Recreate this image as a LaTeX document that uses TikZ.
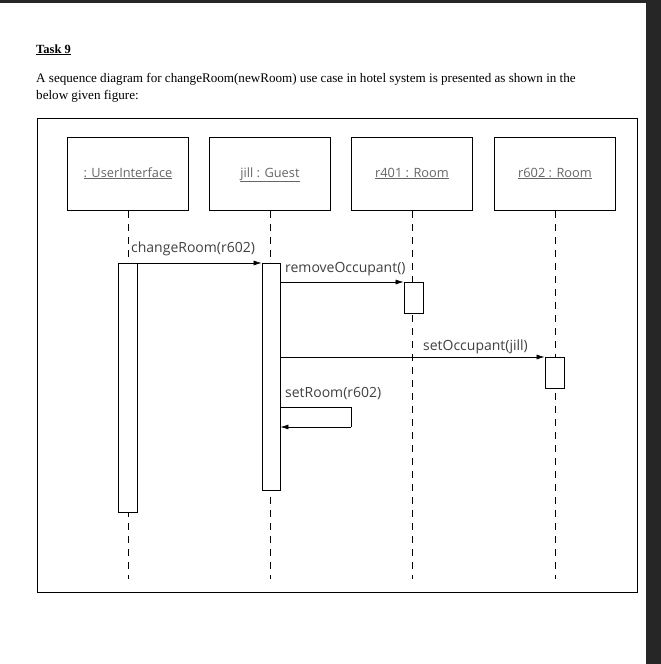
\documentclass[tikz,border=0pt]{standalone}
\usepackage{fontspec}
\setmainfont{Liberation Serif}
\newfontfamily\diag{Open Sans}
\begin{document}
\begin{tikzpicture}[x=1pt,y=-1pt,
  obj/.style={draw,line width=0.8pt,minimum width=121pt,minimum height=73pt,inner sep=0pt,text height=9pt,text depth=3pt,font=\diag\fontsize{12.8}{14}\selectfont,text=black!60},
  act/.style={draw,line width=0.8pt,fill=white},
  life/.style={line width=0.6pt,dash pattern=on 7pt off 6pt},
  msg/.style={line width=0.7pt,-{Latex[length=8pt,width=5pt]}},
  lbl/.style={font=\diag\fontsize{14}{16}\selectfont,text=black!75,inner sep=0pt,anchor=south west}]
\usetikzlibrary{arrows.meta}
\useasboundingbox (0,0) rectangle (661,664);
\fill[black!85] (0,0) rectangle (661,2.5);
\fill[black!85] (646,0) rectangle (661,664);
\node[anchor=base west,inner sep=0pt,font=\bfseries\fontsize{12.5}{14}\selectfont] (t) at (36,53) {\underline{Task 9}};
\node[anchor=base west,inner sep=0pt,font=\fontsize{13.1}{14}\selectfont] (h1) at (36,82) {A sequence diagram for changeRoom(newRoom) use case in hotel system is presented as shown in the};
\node[anchor=base west,inner sep=0pt,font=\fontsize{13.1}{14}\selectfont] (h2) at (36,99) {below given figure:};
\node[draw,line width=0.8pt,minimum width=600pt,minimum height=474pt,anchor=north west] (frame) at (37,118) {};
\node[obj] (ui) at (128,174) {\underline{: UserInterface}};
\node[obj] (g) at (270,174) {\underline{jill : Guest}};
\node[obj] (r4) at (412,174) {\underline{r401 : Room}};
\node[obj] (r6) at (555,174) {\underline{r602 : Room}};
\foreach \n in {ui,g,r4,r6} \draw[life] (\n.south) -- ++(0,368);
\node[act,minimum width=19pt,minimum height=249pt,inner sep=0pt,anchor=north] (aui) at (128,263) {};
\node[act,minimum width=18pt,minimum height=227pt,inner sep=0pt,anchor=north] (ag) at (271,263) {};
\node[act,minimum width=19pt,minimum height=31pt,inner sep=0pt,anchor=north] (ar4) at (413.5,282) {};
\node[act,minimum width=19pt,minimum height=31pt,inner sep=0pt,anchor=north] (ar6) at (554.5,357) {};
\draw[msg] (aui.north east) -- (ag.north west);
\node[lbl] (l1) at (131,256) {changeRoom(r602)};
\draw[msg] (ag.east |- ar4.north) -- (ar4.north west);
\node[lbl] (l2) at (285,276) {removeOccupant()};
\draw[msg] (ag.east |- ar6.north) -- (ar6.north west);
\node[lbl] (l3) at (423,354) {setOccupant(jill)};
\coordinate (s1) at (351,407);
\draw[line width=0.7pt] (ag.east |- s1) -- (s1) -- ++(0,20) coordinate (s2);
\draw[msg] (s2) -- (ag.east |- s2);
\node[lbl] (l4) at (285,400) {setRoom(r602)};
\end{tikzpicture}
\end{document}
